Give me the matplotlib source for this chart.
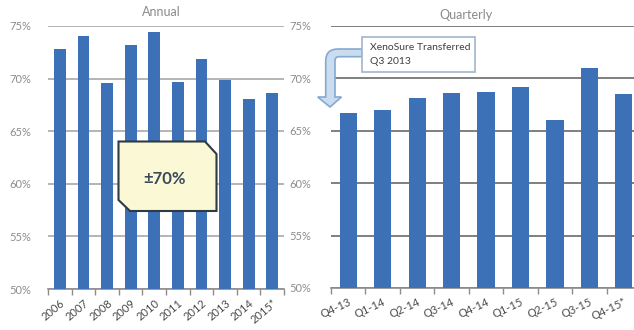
import matplotlib
matplotlib.use("Agg")
import matplotlib.pyplot as plt
from matplotlib.path import Path
from matplotlib.patches import PathPatch, Polygon

plt.rcParams['font.family'] = ['Lato', 'DejaVu Sans']

# Annual series
years = ["2006", "2007", "2008", "2009", "2010", "2011", "2012", "2013", "2014", "2015*"]
annual = [72.8, 74.05, 69.6, 73.2, 74.4, 69.65, 71.9, 69.9, 68.1, 68.65]

# Quarterly series
quarters = ["Q4-13", "Q1-14", "Q2-14", "Q3-14", "Q4-14", "Q1-15", "Q2-15", "Q3-15", "Q4-15*"]
quarterly = [66.7, 66.95, 68.1, 68.6, 68.7, 69.2, 66.05, 71.0, 68.5]

y_ticks = [50, 55, 60, 65, 70, 75]
y_labels = ["50%", "55%", "60%", "65%", "70%", "75%"]

W, H = 634, 330
BAR = "#3D71B7"

fig = plt.figure(figsize=(W / 100, H / 100), dpi=100)
fig.patch.set_facecolor("white")


def px(x, y):
    """Pixel position (from top-left) to figure fraction."""
    return (x / W, 1 - y / H)


def axes_box(x0, x1, y_top, y_bot):
    return [x0 / W, 1 - y_bot / H, (x1 - x0) / W, (y_bot - y_top) / H]


def style_axis(ax, labels, values, grid_color, rot, label_pad):
    n = len(values)
    ax.bar(range(n), values, width=0.5, color=BAR, zorder=3)
    ax.set_xlim(-0.5, n - 0.5)
    ax.set_ylim(50, 75)
    ax.set_yticks(y_ticks)
    ax.set_yticklabels(y_labels)
    ax.tick_params(axis="y", length=0, pad=label_pad, labelsize=8, labelcolor="#8C8C8C")
    ax.yaxis.grid(True, color=grid_color, linewidth=1.2, zorder=1)
    ax.set_axisbelow(True)
    ax.set_xticks(range(n))
    ax.set_xticklabels(labels, rotation=rot, ha="right", va="top",
                       rotation_mode="anchor", fontsize=8, color="#4A4A4A")
    ax.tick_params(axis="x", which="major", length=0, pad=6)
    ax.set_xticks([i - 0.5 for i in range(n + 1)], minor=True)
    ax.tick_params(axis="x", which="minor", length=4, color="#8C8C8C", width=1)
    for side in ("top", "left", "right"):
        ax.spines[side].set_visible(False)
    ax.spines["bottom"].set_color("#8C8C8C")
    ax.spines["bottom"].set_linewidth(1.2)
    ax.set_facecolor("none")


ax1 = fig.add_axes(axes_box(48, 284, 26, 289))
style_axis(ax1, years, annual, "#A8A8A8", 40, 12)

ax2 = fig.add_axes(axes_box(331, 641, 26, 288))
style_axis(ax2, quarters, quarterly, "#6A6A6A", 25, 14)

fig.text(*px(161, 12), "Annual", ha="center", va="center", fontsize=9, color="#8A8A8A")
fig.text(*px(466, 15), "Quarterly", ha="center", va="center", fontsize=9, color="#8A8A8A")

# "±70%" callout with chamfered corners
box_pts = [px(118.5, 141.5), px(205, 141.5), px(216.5, 154), px(216.5, 211),
           px(130, 211), px(118.5, 200)]
fig.add_artist(Polygon(box_pts, closed=True, transform=fig.transFigure,
                       facecolor="#FBF8D6", edgecolor="#2E3A46", linewidth=1.5, zorder=6))
fig.text(*px(164, 179), "±70%", ha="center", va="center", fontsize=12,
         fontweight="bold", color="#3A4A5C", zorder=7)

# bent arrow pointing down to the first quarter
verts = [
    px(362, 49), px(338, 49),
    px(325.7, 49), px(325.7, 61),
    px(325.7, 97), px(317.7, 97), px(330, 107), px(341.5, 97), px(335, 97),
    px(335, 61),
    px(335, 56.7), px(339, 56.7),
    px(362, 56.7), px(362, 49),
]
codes = [Path.MOVETO, Path.LINETO,
         Path.CURVE3, Path.CURVE3,
         Path.LINETO, Path.LINETO, Path.LINETO, Path.LINETO, Path.LINETO,
         Path.LINETO,
         Path.CURVE3, Path.CURVE3,
         Path.LINETO, Path.CLOSEPOLY]
fig.add_artist(PathPatch(Path(verts, codes), transform=fig.transFigure,
                         facecolor="#C9DCF0", edgecolor="#86A9CF", linewidth=1.2, zorder=6))

# note box
note_pts = [px(362, 37), px(475, 37), px(475, 72), px(362, 72)]
fig.add_artist(Polygon(note_pts, closed=True, transform=fig.transFigure,
                       facecolor="white", edgecolor="#9FB5CB", linewidth=1.2, zorder=7))
fig.text(*px(370, 47), "XenoSure Transferred", ha="left", va="center",
         fontsize=7.5, color="#404040", zorder=8)
fig.text(*px(370, 62), "Q3 2013", ha="left", va="center",
         fontsize=7.5, color="#404040", zorder=8)

fig.savefig("out.png", dpi=100)
